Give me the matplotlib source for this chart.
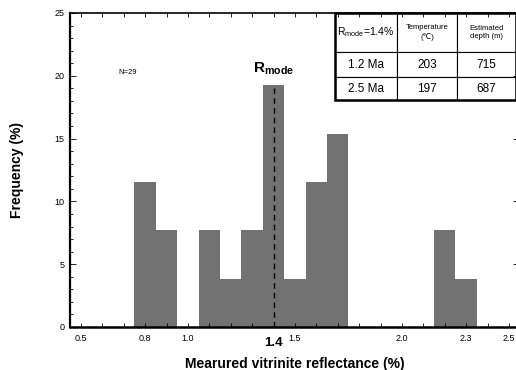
import matplotlib
matplotlib.use('Agg')
import matplotlib.pyplot as plt
from matplotlib.ticker import MultipleLocator, FixedLocator
from matplotlib.patches import Rectangle

plt.rcParams['font.family'] = ['Liberation Sans', 'DejaVu Sans']
plt.rcParams['mathtext.fontset'] = 'custom'
plt.rcParams['mathtext.rm'] = 'Liberation Sans'
plt.rcParams['mathtext.bf'] = 'Liberation Sans:bold'

# histogram bins (centre of each 0.1 bin) and frequency in %
bin_centers = [0.8, 0.9, 1.1, 1.2, 1.3, 1.4, 1.5, 1.6, 1.7, 2.2, 2.3]
freq = [11.54, 7.69, 7.69, 3.85, 7.69, 19.23, 3.85, 11.54, 15.38, 7.69, 3.85]
r_mode = 1.4
xtick_vals = [0.5, 0.8, 1.0, 1.4, 1.5, 2.0, 2.3, 2.5]
xtick_text = ['0.5', '0.8', '1.0', '1.4', '1.5', '2.0', '2.3', '2.5']

# table at the upper right
table_header = [r'R$_{\mathrm{mode}}$=1.4%', 'Temperature\n(\u2103)', 'Estimated\ndepth (m)']
table_rows = [['1.2 Ma', '203', '715'],
              ['2.5 Ma', '197', '687']]

W = 449  # axes width in px (right spine just outside the picture)
fig = plt.figure(figsize=(5.16, 3.70), dpi=100)
ax = fig.add_axes([70/516, 43/370, W/516, 314/370])

ax.bar(bin_centers, freq, width=0.1, color='#727272', linewidth=0)
ax.plot([r_mode, r_mode], [0, max(freq)], color='black', linestyle='--', linewidth=1, dashes=(4, 3))

ax.set_xlim(0.449, 0.449 + W / 214)
ax.set_ylim(0, 25)

ax.xaxis.set_major_locator(FixedLocator(xtick_vals))
ax.set_xticklabels(xtick_text)
ax.xaxis.set_minor_locator(MultipleLocator(0.1))
ax.yaxis.set_major_locator(MultipleLocator(5))
ax.yaxis.set_minor_locator(MultipleLocator(1))
ax.tick_params(which='both', direction='in', top=True, right=True, labelsize=6.5, width=0.6)
ax.tick_params(axis='x', which='major', length=3, pad=5)
ax.tick_params(axis='x', which='minor', length=3)
ax.tick_params(axis='y', which='major', length=4, pad=4)
ax.tick_params(axis='y', which='minor', length=2)

for lab in ax.get_xticklabels():
    if lab.get_text() == '1.4':
        lab.set_fontsize(9.5)
        lab.set_fontweight('bold')
        lab.set_y(-0.01)

ax.spines['left'].set_linewidth(1.6)
ax.spines['bottom'].set_linewidth(1.8)
ax.spines['top'].set_linewidth(1.2)
ax.spines['right'].set_linewidth(1.2)

ax.set_xlabel('Mearured vitrinite reflectance (%)', fontsize=10, fontweight='bold', labelpad=6)
ax.set_ylabel('Frequency (%)', fontsize=10, fontweight='bold', labelpad=22)

ax.text(0.72, 20.3, 'N=29', fontsize=5.5, ha='center', va='center')
ax.text(r_mode, 19.9, r'$\mathbf{R}_{\mathbf{mode}}$', fontsize=11, ha='center', va='bottom')

# table
col_w = [62, 60, 59]
x0 = 335
tab = ax.table(cellText=[table_header] + table_rows, cellLoc='center',
               bbox=[(x0 - 70) / W, (327 - 100) / 314, 181 / W, 87 / 314])
row_h = [39, 25, 23]
for (r, c), cell in tab.get_celld().items():
    cell.set_width(col_w[c] / W)
    cell.set_height(row_h[r] / 314)
    cell.set_linewidth(0.8)
    cell.set_facecolor('white')
    cell.get_text().set_fontsize(8.5 if r > 0 else 5.5)
    if r == 0 and c == 0:
        cell.get_text().set_fontsize(7.5)
        cell.PAD = 0.02
tab.auto_set_font_size(False)
ax.add_patch(Rectangle(((x0 - 70) / W, (327 - 100) / 314), 181 / W, 87 / 314,
                       transform=ax.transAxes, fill=False, linewidth=1.8,
                       edgecolor='black', zorder=10, clip_on=False))

fig.savefig('out.png', dpi=100)
